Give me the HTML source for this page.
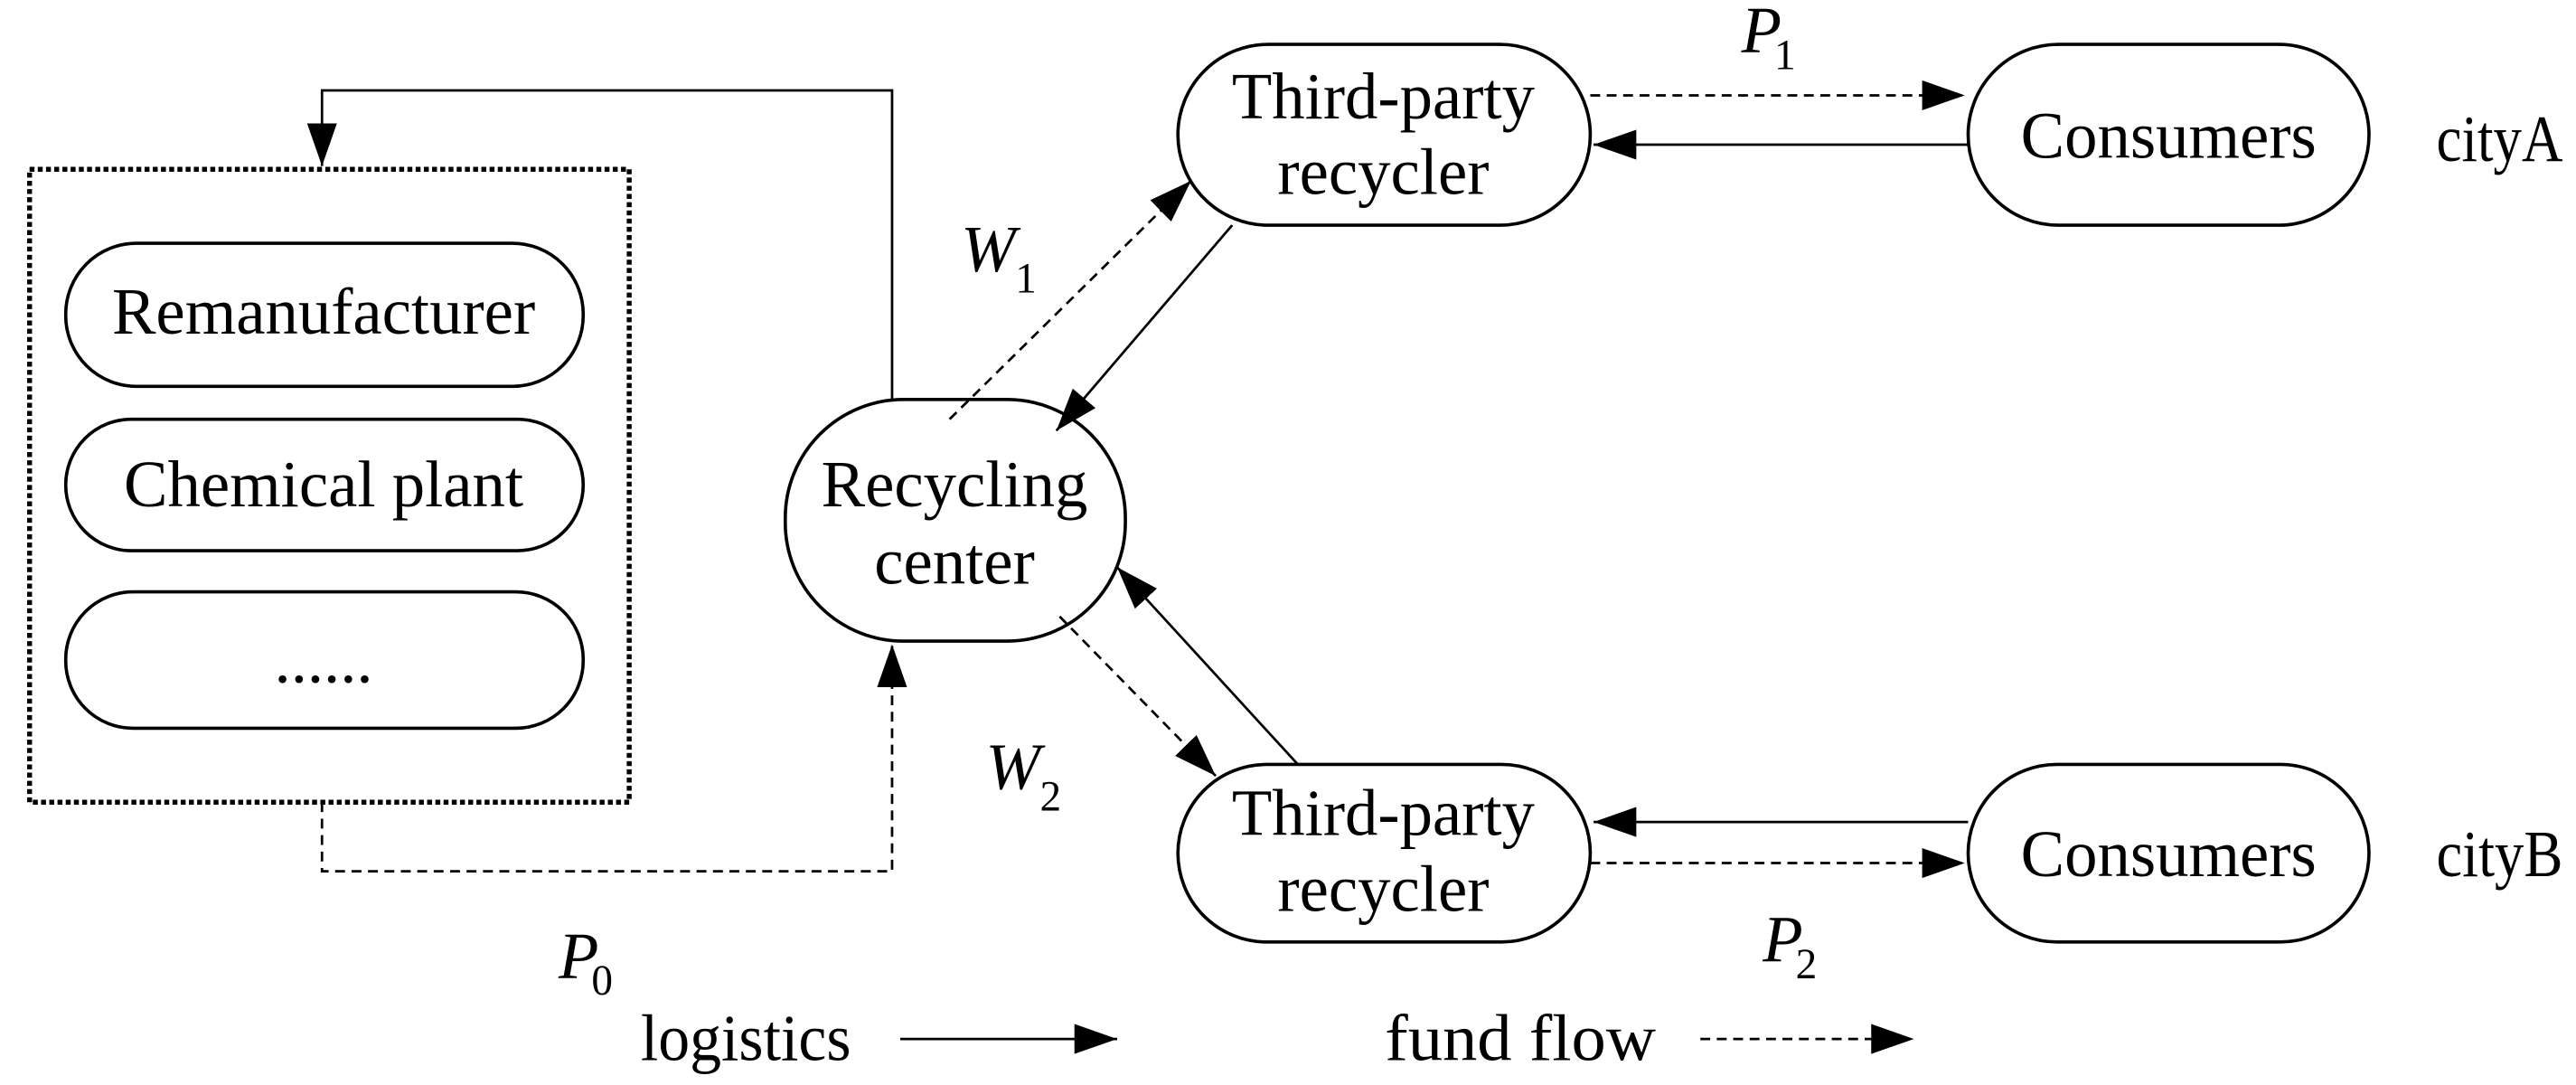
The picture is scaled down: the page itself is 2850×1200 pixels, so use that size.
<!DOCTYPE html>
<html><head><meta charset="utf-8"><style>
html,body{margin:0;padding:0;background:#fff;}
svg{display:block;}
text{font-family:"Liberation Serif",serif;font-size:40px;fill:#000;}
</style></head><body>
<svg width="2850" height="1200" viewBox="0 0 1568 660" preserveAspectRatio="none" xmlns="http://www.w3.org/2000/svg">
<defs>
<marker id="a" viewBox="0 0 10 10" refX="10" refY="5" markerWidth="26" markerHeight="26" markerUnits="userSpaceOnUse" orient="auto"><path d="M0,1.5 L10,5 L0,8.5 z" fill="#000"/></marker>
</defs>
<g fill="none" stroke="#000" stroke-width="2">
<rect x="18" y="103" width="365" height="385" stroke-width="3" stroke-dasharray="3,2"/>
<rect x="40" y="148" width="315" height="87" rx="43"/>
<rect x="40" y="255" width="315" height="80" rx="40"/>
<rect x="40" y="360" width="315" height="83" rx="41"/>
<rect x="478" y="243" width="207" height="147" rx="72"/>
<rect x="717" y="27" width="251" height="110" rx="55"/>
<rect x="1198" y="27" width="244" height="110" rx="55"/>
<rect x="717" y="465" width="251" height="108" rx="54"/>
<rect x="1198" y="465" width="244" height="108" rx="54"/>
<path d="M543,243 V55 H196 V101" stroke-width="1.5" marker-end="url(#a)"/>
<path d="M196,488 V530 H543 V392" stroke-width="1.5" stroke-dasharray="6,4" marker-end="url(#a)"/>
<path d="M578,255 L725,110" stroke-width="1.5" stroke-dasharray="6,4" marker-end="url(#a)"/>
<path d="M750,137 L643,262" stroke-width="1.5" marker-end="url(#a)"/>
<path d="M645,375 L740,472" stroke-width="1.5" stroke-dasharray="6,4" marker-end="url(#a)"/>
<path d="M790,465 L680,345" stroke-width="1.5" marker-end="url(#a)"/>
<path d="M968,58 H1196" stroke-width="1.5" stroke-dasharray="6,4" marker-end="url(#a)"/>
<path d="M1198,88 H970" stroke-width="1.5" marker-end="url(#a)"/>
<path d="M1198,500 H970" stroke-width="1.5" marker-end="url(#a)"/>
<path d="M968,525 H1196" stroke-width="1.5" stroke-dasharray="6,4" marker-end="url(#a)"/>
<path d="M548,632 H680" stroke-width="1.5" marker-end="url(#a)"/>
<path d="M1035,632 H1165" stroke-width="1.5" stroke-dasharray="6,4" marker-end="url(#a)"/>
</g>
<g text-anchor="middle">
<text x="197" y="203">Remanufacturer</text>
<text x="197" y="308">Chemical plant</text>
<text x="197" y="415">......</text>
<text x="581" y="308">Recycling</text>
<text x="581" y="355">center</text>
<text x="842" y="72">Third-party</text>
<text x="842" y="118">recycler</text>
<text x="1320" y="96">Consumers</text>
<text x="842" y="508">Third-party</text>
<text x="842" y="554">recycler</text>
<text x="1320" y="533">Consumers</text>
</g>
<text x="1483" y="98" textLength="77" lengthAdjust="spacingAndGlyphs">cityA</text>
<text x="1483" y="533" textLength="77" lengthAdjust="spacingAndGlyphs">cityB</text>
<text x="390" y="645" textLength="128" lengthAdjust="spacingAndGlyphs">logistics</text>
<text x="843" y="645" textLength="165" lengthAdjust="spacingAndGlyphs">fund flow</text>
<text x="585" y="165" font-style="italic">W</text><text x="618" y="178" style="font-size:26px">1</text>
<text x="600" y="480" font-style="italic">W</text><text x="633" y="493" style="font-size:26px">2</text>
<text x="1060" y="32" font-style="italic">P</text><text x="1080" y="42" style="font-size:26px">1</text>
<text x="1073" y="585" font-style="italic">P</text><text x="1093" y="595" style="font-size:26px">2</text>
<text x="340" y="595" font-style="italic">P</text><text x="360" y="605" style="font-size:26px">0</text>
</svg>
</body></html>
